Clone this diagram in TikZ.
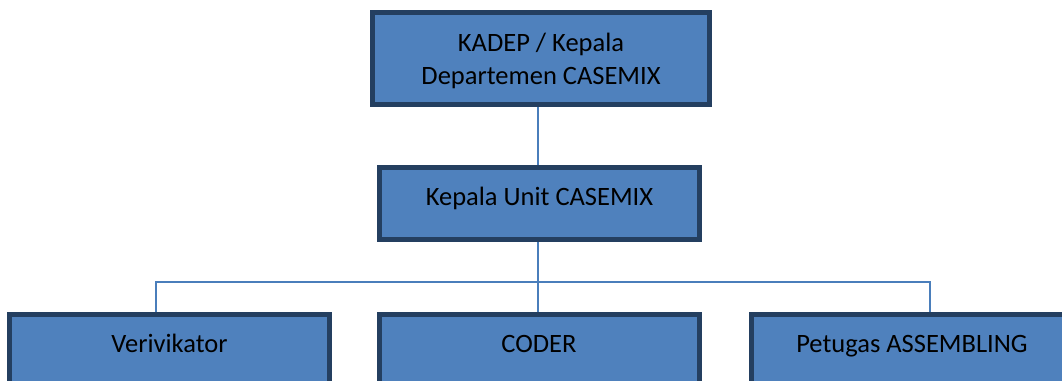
\documentclass[tikz,border=0pt]{standalone}
\usepackage{fontspec}
\setmainfont{Carlito}
\definecolor{boxfill}{HTML}{4F81BD}
\definecolor{boxline}{HTML}{243F60}
\definecolor{linkcol}{HTML}{4A7EBB}
\begin{document}
\begin{tikzpicture}[x=1pt,y=-1pt,
  orgbox/.style={draw=boxline, fill=boxfill, line width=5pt, inner sep=0pt,
    align=center, font=\fontsize{26.5}{33}\selectfont, text=black},
  oneline/.style={orgbox, minimum width=320pt, minimum height=72pt,
    text height=19pt, text depth=15pt},
  link/.style={draw=linkcol, line width=2pt}]
\useasboundingbox (0,0) rectangle (1062,380);
\clip (0,0) rectangle (1062,380);
% reporting lines
\coordinate (trunk) at (538,0);
\coordinate (bus) at (538,282);
\coordinate (busL) at (156,282);
\coordinate (busR) at (930,282);
% boxes
\node[orgbox, minimum width=337pt, minimum height=92pt, text depth=-12pt]
  (kadep) at (541,58.5) {KADEP / Kepala\\Departemen CASEMIX};
\node[oneline] (unit) at (539.5,203.5) {Kepala Unit CASEMIX};
\node[oneline] (veri) at (169.5,350.5) {Verivikator};
\node[oneline] (coder) at (539,350.5) {CODER};
\node[oneline, minimum width=321pt] (asm) at (912,350.5) {Petugas ASSEMBLING};
\draw[link] (kadep.south -| trunk) -- (unit.north -| trunk);
\draw[link] (unit.south -| bus) -- (bus);
\draw[link] (veri.north -| busL) -- (busL) -- (busR) -- (asm.north -| busR);
\draw[link] (bus) -- (coder.north -| bus);
\end{tikzpicture}
\end{document}
